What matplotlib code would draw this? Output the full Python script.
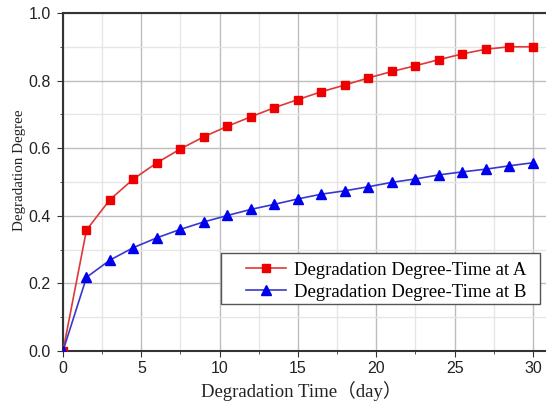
import matplotlib
matplotlib.use("Agg")
import matplotlib.pyplot as plt
from matplotlib.ticker import MultipleLocator
from matplotlib.patches import Rectangle

days = [0, 1.5, 3, 4.5, 6, 7.5, 9, 10.5, 12, 13.5, 15, 16.5, 18, 19.5, 21,
        22.5, 24, 25.5, 27, 28.5, 30]
degree_a = [0.0, 0.358, 0.448, 0.509, 0.557, 0.598, 0.634, 0.665, 0.693, 0.720,
            0.744, 0.767, 0.787, 0.808, 0.827, 0.844, 0.862, 0.879, 0.893, 0.900, 0.900]
degree_b = [0.0, 0.218, 0.269, 0.306, 0.335, 0.360, 0.382, 0.401, 0.419, 0.434,
            0.450, 0.464, 0.474, 0.486, 0.499, 0.509, 0.521, 0.530, 0.538, 0.548, 0.557]
label_a = "Degradation Degree-Time at A"
label_b = "Degradation Degree-Time at B"

fig = plt.figure(figsize=(5.46, 4.04), dpi=100)
ax = fig.add_axes([63/546, 1-351/404, 484/546, 338/404])

ax.plot(days, degree_a, color="#e03838", lw=1.2, marker="s", ms=6,
        mfc="#ee0000", mec="#ee0000", label=label_a, zorder=3)
ax.plot(days, degree_b, color="#3838d0", lw=1.2, marker="^", ms=7,
        mfc="#0000ee", mec="#0000ee", label=label_b, zorder=3)

ax.set_xlim(0, 30.9)
ax.set_ylim(0, 1.0)
ax.xaxis.set_major_locator(MultipleLocator(5))
ax.xaxis.set_minor_locator(MultipleLocator(2.5))
ax.yaxis.set_major_locator(MultipleLocator(0.2))
ax.yaxis.set_minor_locator(MultipleLocator(0.1))
ax.grid(which="major", color="#bdbdbd", lw=1.0)
ax.grid(which="minor", color="#e6e6e6", lw=1.0)
ax.set_axisbelow(True)
ax.tick_params(which="both", direction="out", labelsize=11.5, colors="#333333",
               labelcolor="#222222")
ax.tick_params(which="major", length=4, pad=5)
ax.tick_params(which="minor", length=2)
ax.tick_params(axis="x", which="major", pad=3)
for lab in ax.get_xticklabels() + ax.get_yticklabels():
    lab.set_family("Liberation Sans")
ax.yaxis.set_major_formatter(plt.FuncFormatter(lambda v, p: f"{v:.1f}"))
for s in ["left", "bottom", "top"]:
    ax.spines[s].set_color("#333333")
    ax.spines[s].set_linewidth(1.5)
ax.spines["right"].set_visible(False)

ax.set_xlabel("Degradation Time（day）", family=["Liberation Serif", "Noto Sans CJK SC"],
              fontsize=13.5, color="#222222")
ax.xaxis.set_label_coords(0.492, -0.136)
ax.xaxis.label.set_va("baseline")
ax.set_ylabel("Degradation Degree", family="Liberation Serif", fontsize=10.8, color="#222222")
ax.yaxis.set_label_coords(-0.076, 0.535)

frame = Rectangle((0.326, 0.139), 0.659, 0.151, transform=ax.transAxes,
                  facecolor="white", edgecolor="#555555", lw=1.0, zorder=4)
ax.add_patch(frame)
leg = ax.legend(loc="center left", bbox_to_anchor=(0.378, 0.206),
                prop={"family": "Liberation Serif", "size": 13.5},
                frameon=False, handlelength=2.15, handletextpad=0.4,
                borderaxespad=0, borderpad=0, labelspacing=0.25)
leg.set_zorder(5)

fig.savefig("out.png", dpi=100)
